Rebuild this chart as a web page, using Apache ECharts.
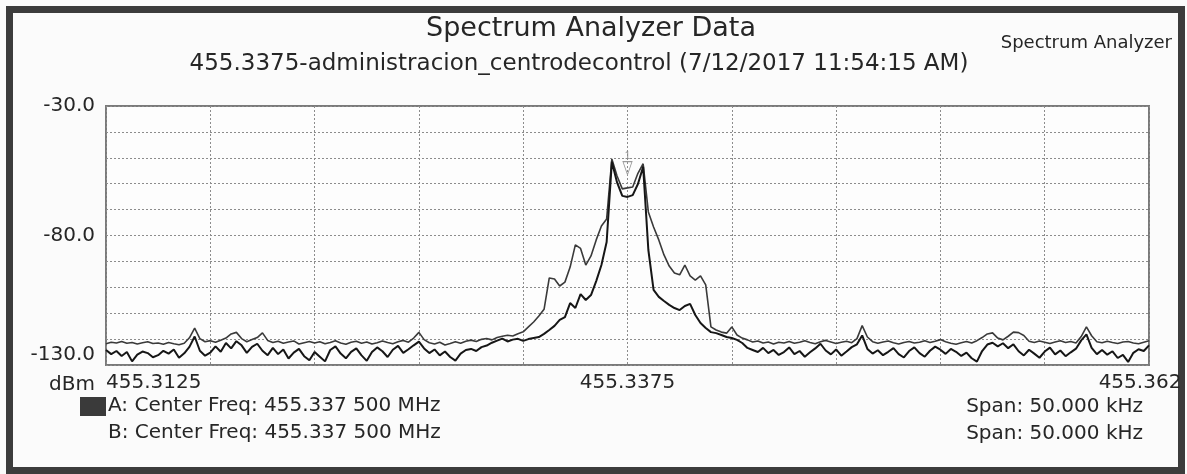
<!DOCTYPE html>
<html>
<head>
<meta charset="utf-8">
<title>Spectrum Analyzer Data</title>
<script src="https://cdn.jsdelivr.net/npm/echarts@6.0.0/dist/echarts.min.js"></script>
<style>
  html, body { margin: 0; padding: 0; background: #fbfbfb; }
  #chart { width: 1187px; height: 474px; }
</style>
</head>
<body>
<div id="chart"></div>
<script>
// sweep: 455.3125 .. 455.3625 MHz, one sample every 0.25 kHz (201 points)
const startMHz = 455.3125;
const stepKHz = 0.25;

// y ticks / labels
const yTickLabels = [-30, -80, -130];
const xTickLabels = { 0: "455.3125", 25: "455.3375", 50: "455.362" };

// trace A (lower, dark) in dBm
const traceA = [
  -124.2, -125.8, -124.6, -126.5, -125.0, -128.6, -126.0, -124.8, -125.4, -127.0,
  -126.2, -124.5, -125.6, -124.0, -127.2, -125.5, -123.0, -119.0, -124.5, -126.4,
  -125.2, -122.8, -124.9, -121.5, -123.6, -120.8, -122.4, -125.3, -123.0, -121.8,
  -124.5, -126.2, -123.4, -125.8, -124.0, -127.5, -125.2, -123.8, -126.6, -128.2,
  -125.0, -126.8, -128.6, -124.2, -122.8, -125.6, -127.4, -124.9, -123.6, -126.3,
  -128.4, -125.0, -123.2, -124.7, -126.9, -124.1, -122.6, -125.3, -123.9, -122.4,
  -121.0, -123.6, -125.4, -124.0, -126.3, -124.8, -126.9, -128.3, -125.6, -124.2,
  -123.8, -124.6, -123.1, -122.5, -121.4, -120.6, -119.8, -120.9, -120.2, -119.9,
  -120.7, -120.0, -119.6, -119.2, -118.0, -116.5, -114.9, -112.6, -111.5, -106.1,
  -108.0, -102.6, -104.9, -103.0, -97.6, -91.4, -82.5, -51.5, -59.5, -64.7,
  -65.1, -64.4, -60.1, -53.5, -85.6, -101.0, -103.7, -105.3, -106.8, -108.0,
  -108.8, -107.2, -106.4, -110.7, -113.8, -115.7, -117.3, -117.7, -118.4, -119.2,
  -119.6, -120.3, -121.5, -123.4, -124.2, -125.0, -123.4, -125.4, -124.2, -126.1,
  -125.0, -123.2, -125.8, -124.6, -126.8, -125.1, -123.6, -121.8, -124.4, -125.9,
  -124.0, -126.4, -124.8, -123.1, -122.0, -118.6, -123.8, -125.6, -124.3, -126.2,
  -124.9, -123.5, -125.8, -127.1, -124.6, -123.2, -125.4, -126.8, -124.5, -122.9,
  -124.1, -125.7, -123.8, -124.9, -126.5, -125.2, -127.4, -128.7, -124.6, -122.1,
  -121.4, -122.8, -121.6, -123.5, -122.0, -124.7, -126.3, -124.1, -125.6, -127.2,
  -124.8, -123.3, -125.9, -124.4, -126.6, -125.1, -123.7, -120.5, -118.2, -123.4,
  -125.8, -124.2, -126.0, -124.7, -127.3, -126.1, -128.8, -125.3, -123.9, -124.6,
  -122.4,
];

// trace B (upper, grey) in dBm
const traceB = [
  -121.8, -121.2, -121.5, -120.9, -121.6, -121.3, -121.9, -121.4, -121.0, -121.7,
  -121.5, -122.0, -121.3, -121.8, -122.2, -121.6, -119.5, -115.8, -119.8, -121.0,
  -120.6, -121.2, -120.4, -119.6, -118.0, -117.4, -119.8, -121.0, -120.2, -119.4,
  -117.6, -120.5, -121.3, -120.8, -121.6, -121.1, -120.7, -121.9, -121.4, -120.9,
  -121.5, -121.0, -121.8, -121.3, -120.6, -121.5, -122.0, -121.2, -120.8, -121.6,
  -121.1, -121.9, -121.4, -120.7, -121.3, -121.8, -121.0, -120.5, -121.2, -119.6,
  -117.4, -120.2, -121.4, -121.9, -121.2, -122.3, -121.7, -121.0, -121.6, -120.8,
  -120.4, -120.9, -120.1, -119.8, -120.3, -119.4, -118.9, -118.5, -118.8, -117.9,
  -117.2, -115.3, -113.4, -111.1, -108.5, -96.4, -96.8, -99.5, -98.0, -92.2,
  -83.6, -85.0, -91.4, -87.9, -81.7, -76.3, -73.6, -50.5, -57.0, -62.0,
  -61.6, -61.3, -56.0, -52.3, -70.9, -76.7, -81.7, -87.5, -91.8, -94.5,
  -95.2, -91.4, -95.6, -97.2, -95.6, -99.1, -115.3, -116.5, -117.3, -117.7,
  -115.3, -118.4, -119.6, -120.3, -121.1, -120.7, -121.5, -121.1, -121.9, -121.2,
  -121.5, -120.9, -121.6, -121.2, -120.6, -121.3, -121.8, -121.0, -120.5, -121.1,
  -121.7, -121.2, -120.8, -121.4, -119.8, -114.8, -119.2, -121.0, -121.6, -121.1,
  -120.7, -121.4, -121.9, -121.3, -120.9, -121.5, -121.2, -120.6, -121.3, -120.8,
  -120.2, -121.0, -121.6, -122.0, -121.4, -120.9, -121.5, -120.6, -119.4, -118.0,
  -117.6, -119.6, -120.3, -118.9, -117.3, -117.5, -118.6, -120.8, -121.3, -120.7,
  -121.2, -121.7, -121.1, -120.6, -121.3, -120.9, -121.5, -119.0, -115.3, -118.7,
  -121.0, -121.4, -120.8, -121.3, -121.7, -121.1, -120.9, -121.5, -121.8, -121.2,
  -120.6,
];

const FONT = "DejaVu Sans";
const INK = "#262626";

function toPairs(values) {
  // x is the offset from the start frequency in kHz
  return values.map((v, i) => [i * stepKHz, v]);
}

function textItem(text, x, y, align) {
  return {
    type: "text",
    x: x,
    y: y,
    style: {
      text: text,
      font: "20px " + FONT,
      fill: INK,
      align: align,
      verticalAlign: "middle",
    },
  };
}

const chart = echarts.init(document.getElementById("chart"), null, { renderer: "canvas" });

chart.setOption({
  backgroundColor: "#fbfbfb",
  animation: false,
  title: [
    {
      text: "Spectrum Analyzer Data",
      left: 591,
      top: 15,
      textAlign: "center",
      padding: 0,
      textStyle: { fontFamily: FONT, fontSize: 27, fontWeight: "normal", color: INK },
    },
    {
      text: "455.3375-administracion_centrodecontrol (7/12/2017 11:54:15 AM)",
      left: 579,
      top: 53,
      textAlign: "center",
      padding: 0,
      textStyle: { fontFamily: FONT, fontSize: 23, fontWeight: "normal", color: INK },
    },
    {
      text: "Spectrum Analyzer",
      left: 1172,
      top: 34,
      textAlign: "right",
      padding: 0,
      textStyle: { fontFamily: FONT, fontSize: 18, fontWeight: "normal", color: INK },
    },
  ],
  grid: {
    left: 106,
    top: 106,
    right: 38,
    bottom: 109,
    show: true,
    borderColor: "#7a7a7a",
    borderWidth: 2,
    backgroundColor: "#fdfdfd",
  },
  xAxis: {
    type: "value",
    min: 0,
    max: 50,
    interval: 5,
    axisLine: { show: false },
    axisTick: { show: false },
    splitLine: { show: true, lineStyle: { color: "#8c8c8c", width: 1, type: [2, 2] } },
    axisLabel: {
      fontFamily: FONT,
      fontSize: 20,
      color: INK,
      margin: 8,
      showMinLabel: true,
      showMaxLabel: true,
      alignMinLabel: "left",
      alignMaxLabel: "center",
      formatter: (v) => {
        if (v === 50) return "{r|" + xTickLabels[50] + "}";
        return xTickLabels[v] || "";
      },
      rich: {
        r: { fontFamily: FONT, fontSize: 20, color: INK, padding: [0, 18, 0, 0] },
      },
    },
  },
  yAxis: {
    type: "value",
    min: -130,
    max: -30,
    interval: 10,
    name: "dBm",
    nameLocation: "start",
    nameGap: 20,
    nameTextStyle: {
      fontFamily: FONT,
      fontSize: 20,
      color: INK,
      align: "right",
      verticalAlign: "middle",
      padding: [0, 11, 0, 0],
    },
    axisLine: { show: false },
    axisTick: { show: false },
    splitLine: { show: true, lineStyle: { color: "#8c8c8c", width: 1, type: [2, 2] } },
    axisLabel: {
      fontFamily: FONT,
      fontSize: 20,
      color: INK,
      margin: 11,
      showMinLabel: true,
      showMaxLabel: true,
      verticalAlignMinLabel: "bottom",
      formatter: (v) => (yTickLabels.includes(v) ? v.toFixed(1) : ""),
    },
  },
  series: [
    {
      name: "B",
      type: "line",
      data: toPairs(traceB),
      showSymbol: false,
      lineStyle: { color: "#3a3a3a", width: 1.6 },
      z: 3,
    },
    {
      name: "A",
      type: "line",
      data: toPairs(traceA),
      showSymbol: false,
      lineStyle: { color: "#161616", width: 2 },
      z: 4,
      // marker 1 at the centre frequency
      markPoint: {
        symbol: "triangle",
        symbolRotate: 180,
        symbolSize: [9, 13],
        itemStyle: { color: "rgba(0,0,0,0)", borderColor: "#9a9a9a", borderWidth: 1 },
        label: { show: true, formatter: "1", color: "#8a8a8a", fontSize: 10, offset: [0, -12] },
        data: [{ coord: [25, -54] }],
      },
    },
  ],
  graphic: [
    // outer frame of the printout
    {
      type: "rect",
      shape: { x: 9.5, y: 9.5, width: 1172, height: 461 },
      style: { fill: null, stroke: "#3c3c3c", lineWidth: 7 },
      silent: true,
    },
    // trace A swatch
    {
      type: "rect",
      shape: { x: 80, y: 397, width: 26, height: 19 },
      style: { fill: "#3a3a3a" },
      silent: true,
    },
    textItem("A: Center Freq: 455.337 500 MHz", 108, 406, "left"),
    textItem("B: Center Freq: 455.337 500 MHz", 108, 433, "left"),
    textItem("Span: 50.000 kHz", 1143, 407, "right"),
    textItem("Span: 50.000 kHz", 1143, 434, "right"),
  ],
});
</script>
</body>
</html>
